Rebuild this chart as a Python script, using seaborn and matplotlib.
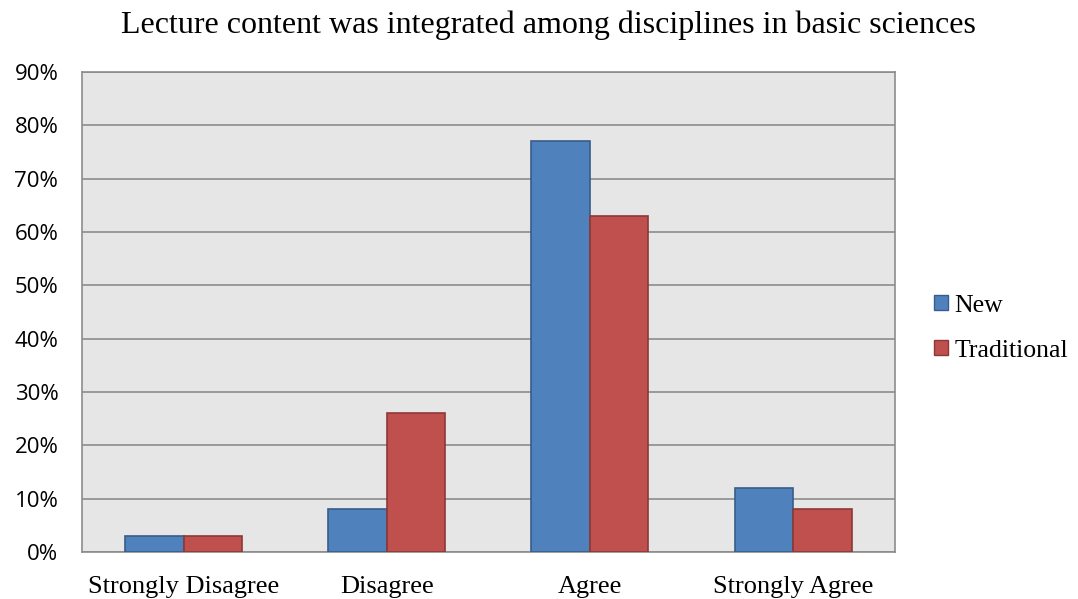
import pandas as pd
import matplotlib.pyplot as plt
import seaborn as sns
from matplotlib.ticker import PercentFormatter
from matplotlib.patches import Patch

# Data
categories = ['Strongly Disagree', 'Disagree', 'Agree', 'Strongly Agree']
new_vals = [3, 8, 77, 12]
traditional_vals = [3, 26, 63, 8]

df = pd.DataFrame({
    'Response': categories * 2,
    'Percent': new_vals + traditional_vals,
    'Group': ['New'] * 4 + ['Traditional'] * 4,
})

sns.set_style('white')
plt.rcParams['font.family'] = ['Liberation Serif', 'DejaVu Serif']
plt.rcParams['text.color'] = 'black'
plt.rcParams['xtick.color'] = 'black'
plt.rcParams['ytick.color'] = 'black'

fig = plt.figure(figsize=(10.78, 5.99), dpi=100)
ax = fig.add_axes([0.076, 0.0785, 0.754, 0.8015])
ax.set_facecolor('#E6E6E6')

colors = {'New': '#4F81BD', 'Traditional': '#C0504D'}
edges = {'New': '#385D8A', 'Traditional': '#8C3836'}
sns.barplot(data=df, x='Response', y='Percent', hue='Group', palette=colors,
            width=0.576, saturation=1, ax=ax, legend=False, zorder=3)

for bar, grp in zip(ax.patches, ['New'] * 4 + ['Traditional'] * 4):
    bar.set_edgecolor(edges[grp])
    bar.set_linewidth(1.2)

ax.set_ylim(0, 90)
ax.set_yticks(range(0, 91, 10))
ax.yaxis.set_major_formatter(PercentFormatter(decimals=0))
ax.grid(axis='y', color='#8C8C8C', linewidth=1.2, zorder=0)
ax.set_axisbelow(True)
for s in ax.spines.values():
    s.set_color('#8C8C8C')
    s.set_linewidth(1.2)

ax.set_xlabel('')
ax.set_ylabel('')
ax.tick_params(axis='x', labelsize=19, length=0, pad=17)
ax.tick_params(axis='y', labelsize=16, length=0, pad=17)
for lab in ax.get_yticklabels():
    lab.set_family('Open Sans')

fig.text(0.509, 0.958, 'Lecture content was integrated among disciplines in basic sciences',
         fontsize=23, ha='center', va='center')

handles = [Patch(facecolor=colors[g], edgecolor=edges[g], label=g) for g in ['New', 'Traditional']]
fig.legend(handles=handles, loc='center left', bbox_to_anchor=(0.845, 0.452),
           frameon=False, fontsize=18.5, handlelength=0.55, handleheight=0.55,
           handletextpad=0.25, labelspacing=0.9)

plt.savefig('out.png', dpi=100)
plt.close()
